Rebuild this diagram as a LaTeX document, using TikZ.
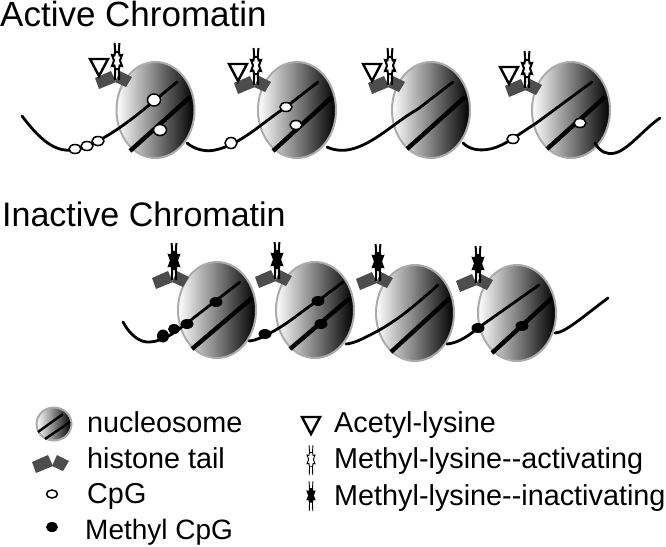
\documentclass[tikz,border=0pt]{standalone}
\usepackage{fontspec}
\setmainfont{Liberation Sans}
\usetikzlibrary{shapes.geometric}
\definecolor{ntail}{HTML}{4D4D4D}
\definecolor{nrim}{HTML}{ABABAB}
\tikzset{
  pics/histonetail/.style={code={
    \fill[ntail] (-22,-2) -- (-6,-9) -- (-1,2) -- (-18,9) -- cycle;
    \fill[ntail] (3,-9) -- (15,-3) -- (9,7) -- (-2,2) -- cycle;
  }},
  pics/acetyl/.style={code={
    \draw[fill=white, line width=2.4pt, line join=miter] (-27,-21) -- (-9,-21) -- (-18,-4) -- cycle;
  }},
  pics/lysmark/.style={code={
    \draw (-2.4,-37) -- (-1.8,-28) (2.4,-37) -- (1.8,-28) (-1.8,-11) -- (-2.2,0) (1.8,-11) -- (2.2,0);
    \draw[pic actions] (-2,-28) -- (-2.6,-24.5) -- (-5,-25) -- (-3,-19.5) -- (-5,-14) -- (-2.6,-14.5) -- (-2,-11)
      -- (2,-11) -- (2.6,-14.5) -- (5,-14) -- (3,-19.5) -- (5,-25) -- (2.6,-24.5) -- (2,-28) -- cycle;
  }},
}
\begin{document}
\begin{tikzpicture}[
  x=1pt, y=-1pt,
  nuc/.style={ellipse, draw=nrim, line width=2pt, left color=white, right color=black,
    minimum width=78pt, minimum height=96pt, inner sep=0pt},
  dna/.style={line width=2.8pt, line cap=round},
  wrap/.style={line width=4.4pt, line cap=butt},
  cpg/.style={ellipse, draw=black, fill=white, line width=1.5pt, minimum width=12pt, minimum height=9pt, inner sep=0pt},
  mcpg/.style={ellipse, fill=black, minimum width=13pt, minimum height=10pt, inner sep=0pt},
  headtxt/.style={anchor=base west, inner sep=0pt},
  keytxt/.style={anchor=base west, inner sep=0pt, font=\fontsize{28.8}{32}\selectfont},
  bigmark/.style={draw, line width=2pt},
  keymark/.style={draw, line width=.9pt, xscale=.8, yscale=.8},
]
  \useasboundingbox (0,0) rectangle (666,546);

  % active row
  \node[headtxt, font=\fontsize{35}{40}\selectfont] (active) at (0,27) {Active Chromatin};

  \node[nuc] (a1) at (155.5,110) {};
  \node[nuc] (a2) at (297,110) {};
  \node[nuc] (a3) at (431,110) {};
  \node[nuc] (a4) at (571,110) {};

  \draw[wrap] (130,151) -- (190,97);
  \draw[wrap] (273,151) -- (332,97);
  \draw[wrap] (407,149) -- (465,97);
  \draw[wrap] (547,149) -- (605,97);

  \draw[dna] (22,116) .. controls (40,140) and (55,152) .. (72,150) .. controls (95,147) and (125,125) .. (148,106) -- (177,82);
  \draw[dna] (187,143) .. controls (195,150) and (207,152) .. (215,150) .. controls (240,145) and (262,123) .. (286,107) -- (318,82);
  \draw[dna] (327,147) .. controls (335,151) and (345,151) .. (352,149) .. controls (375,143) and (395,122) .. (418,109) -- (453,82);
  \draw[dna] (463,143) .. controls (470,150) and (480,151) .. (490,149) .. controls (505,146) and (520,133) .. (535,124) -- (592,82);
  \draw[dna] (595,143) .. controls (600,152) and (607,155) .. (615,153) .. controls (628,150) and (645,128) .. (660,118);

  \node[cpg] (ca1) at (75,149) {};
  \node[cpg] (ca2) at (87,146) {};
  \node[cpg] (ca3) at (98,141) {};
  \node[cpg, minimum width=13pt, minimum height=12pt] (ca4) at (154,100) {};
  \node[cpg, minimum width=13pt, minimum height=11pt] (ca5) at (160,130) {};
  \node[cpg, minimum height=11pt] (ca6) at (231,143) {};
  \node[cpg] (ca7) at (286,107) {};
  \node[cpg] (ca8) at (296,125) {};
  \node[cpg] (ca9) at (513,139) {};
  \node[cpg] (ca10) at (580,123) {};

  \pic at (117,80) {histonetail};
  \pic at (256,85) {histonetail};
  \pic at (390,85) {histonetail};
  \pic at (527,88) {histonetail};
  \pic at (117,80) {acetyl};
  \pic at (256,85) {acetyl};
  \pic at (390,85) {acetyl};
  \pic at (527,88) {acetyl};
  \pic[bigmark, fill=white] at (117,80) {lysmark};
  \pic[bigmark, fill=white] at (256,85) {lysmark};
  \pic[bigmark, fill=white] at (390,85) {lysmark};
  \pic[bigmark, fill=white] at (527,88) {lysmark};

  % inactive row
  \node[headtxt, font=\fontsize{34}{38}\selectfont] (inactive) at (2,226) {Inactive Chromatin};

  \node[nuc] (i1) at (217,310) {};
  \node[nuc] (i2) at (315,310) {};
  \node[nuc] (i3) at (415,313) {};
  \node[nuc] (i4) at (517,313) {};

  \draw[wrap] (192,349) -- (252,298);
  \draw[wrap] (290,349) -- (350,298);
  \draw[wrap] (391,352) -- (450,298);
  \draw[wrap] (492,353) -- (552,298);

  \draw[dna] (123,322) .. controls (130,335) and (140,343) .. (150,342) .. controls (165,341) and (178,330) .. (187,323) -- (240,282);
  \draw[dna] (249,341) .. controls (258,340) and (262,337) .. (270,333) .. controls (290,323) and (305,308) .. (318,301) -- (343,282);
  \draw[dna] (346,344) .. controls (355,343) and (362,339) .. (372,334) .. controls (395,322) and (410,310) .. (438,285);
  \draw[dna] (447,344) .. controls (456,343) and (465,339) .. (478,328) -- (539,285);
  \draw[dna] (555,333) .. controls (565,333) and (585,315) .. (608,298);

  \node[mcpg, minimum width=12pt, minimum height=13pt] (ci1) at (163,336) {};
  \node[mcpg, minimum width=12pt, minimum height=10pt] (ci2) at (174,329) {};
  \node[mcpg] (ci3) at (187,324) {};
  \node[mcpg] (ci4) at (216,302) {};
  \node[mcpg] (ci5) at (265,334) {};
  \node[mcpg] (ci6) at (318,301) {};
  \node[mcpg] (ci7) at (321,324) {};
  \node[mcpg] (ci8) at (478,328) {};
  \node[mcpg] (ci9) at (522,326) {};

  \pic at (174,280) {histonetail};
  \pic at (277,279) {histonetail};
  \pic at (378,281) {histonetail};
  \pic at (478,283) {histonetail};
  \pic[bigmark, fill=black] at (174,280) {lysmark};
  \pic[bigmark, fill=black] at (277,279) {lysmark};
  \pic[bigmark, fill=black] at (378,281) {lysmark};
  \pic[bigmark, fill=black] at (478,283) {lysmark};

  % key
  \node[nuc, minimum width=35pt, minimum height=33pt] (knuc) at (54,424) {};
  \draw[line width=2.4pt] (38,432) -- (63,414);
  \draw[line width=2.4pt] (45,439) -- (70,422);
  \pic at (54,464) {histonetail};
  \node[cpg, minimum width=11pt, minimum height=8pt] (kcpg) at (52,494) {};
  \node[mcpg, minimum width=12pt] (kmcpg) at (52,527) {};

  \node[keytxt] (t1) at (87,432) {nucleosome};
  \node[keytxt] (t2) at (87,468) {histone tail};
  \node[keytxt] (t3) at (87,503) {CpG};
  \node[keytxt, font=\fontsize{28}{32}\selectfont] (t4) at (85,539) {Methyl CpG};

  \pic at (329,438) {acetyl};
  \pic[keymark, fill=white] at (311,475) {lysmark};
  \pic[keymark, fill=black] at (311,511) {lysmark};

  \node[keytxt] (t5) at (334,432) {Acetyl-lysine};
  \node[keytxt] (t6) at (334,468) {Methyl-lysine-{}-activating};
  \node[keytxt] (t7) at (334,505) {Methyl-lysine-{}-inactivating};
\end{tikzpicture}
\end{document}
